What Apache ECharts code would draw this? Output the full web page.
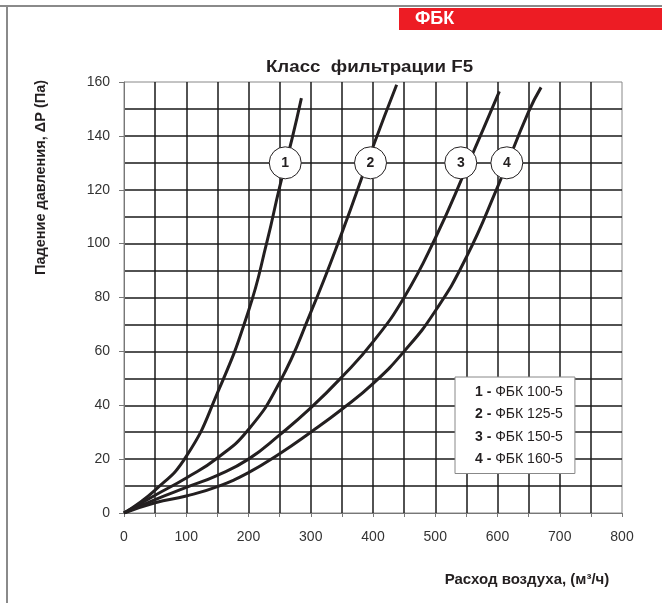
<!DOCTYPE html>
<html><head><meta charset="utf-8">
<script src="https://cdn.jsdelivr.net/npm/echarts@6/dist/echarts.min.js"></script>
<style>html,body{margin:0;padding:0;background:#fff}#c{width:662px;height:603px}</style>
</head><body><div id="c"></div>
<script>
const seriesNames = ['ФБК 100-5', 'ФБК 125-5', 'ФБК 150-5', 'ФБК 160-5'];
const curve1 = [[0,0],[50,8.5],[100,21],[150,44.5],[200,75],[230,101],[250,121],[270,139],[285,154]];
const curve2 = [[0,0],[50,6.6],[100,13],[150,20.4],[200,31],[250,48.5],[300,74.5],[350,104],[400,136],[438,159]];
const curve3 = [[0,0],[50,5],[100,9.5],[150,14],[200,20],[250,29],[300,39],[350,50.5],[400,63.5],[450,80],[500,102],[550,128],[603,156.5]];
const curve4 = [[0,0],[50,3.8],[100,6.3],[150,9.8],[200,15],[250,22],[300,30],[350,38.5],[400,48],[450,60],[500,75],[550,95],[600,121],[650,149],[670,158]];
const curveMarks = [[259,130,'1'],[396,130,'2'],[541,130,'3'],[615,130,'4']];
const titleText = 'Класс  фильтрации F5';
const xName = 'Расход воздуха, (м³/ч)';
const yName = 'Падение давления, ΔР (Па)';
const headerText = 'ФБК';

const FONT = 'Liberation Sans, Arial, sans-serif';
const curves = [curve1, curve2, curve3, curve4];
const chart = echarts.init(document.getElementById('c'), null, {renderer:'canvas'});

const series = curves.map((d, i) => ({
  name: seriesNames[i], type: 'line', data: d, smooth: 0.5, showSymbol: false,
  lineStyle: {color: '#231f20', width: 3}, itemStyle: {color: '#231f20'}, z: 3, silent: true
}));
series.push({
  type: 'scatter', data: curveMarks.map(m => [m[0], m[1], m[2]]), symbolSize: 32, z: 5,
  itemStyle: {color: '#ffffff', opacity: 1, borderColor: '#231f20', borderWidth: 1},
  label: {show: true, position: 'inside', formatter: p => p.data[2], color: '#231f20',
          fontFamily: FONT, fontWeight: 'bold', fontSize: 14},
  emphasis: {disabled: true}, silent: true
});

chart.setOption({
  animation: false,
  backgroundColor: '#fff',
  textStyle: {fontFamily: FONT},
  grid: {left: 124, right: 40, top: 82, bottom: 90, show: true, borderColor: '#888', borderWidth: 1},
  legend: {
    data: seriesNames, orient: 'vertical', left: 455, top: 377, icon: 'none',
    itemWidth: 0, itemHeight: 0, itemGap: 8.5,
    backgroundColor: '#fff', borderColor: '#888', borderWidth: 1,
    padding: [8, 12, 7, 15],
    formatter: name => '{n|' + (seriesNames.indexOf(name) + 1) + ' -} ' + name,
    textStyle: {fontFamily: FONT, fontSize: 14, color: '#231f20',
                rich: {n: {fontFamily: FONT, fontSize: 14, fontWeight: 'bold', color: '#231f20'}}},
    selectedMode: false, z: 10
  },
  xAxis: {
    type: 'value', min: 0, max: 800, interval: 100,
    axisLine: {show: true, lineStyle: {color: '#777', width: 1}},
    axisTick: {show: true, length: 4, lineStyle: {color: '#777'}},
    minorTick: {show: true, splitNumber: 2, length: 4, lineStyle: {color: '#777'}},
    axisLabel: {fontFamily: FONT, fontSize: 14, color: '#333', margin: 17},
    splitLine: {show: true, showMinLine: false, showMaxLine: false, lineStyle: {color: '#1a1a1a', width: 1.5}},
    minorSplitLine: {show: true, lineStyle: {color: '#1a1a1a', width: 1.5}}
  },
  yAxis: {
    type: 'value', min: 0, max: 160, interval: 20,
    axisLine: {show: true, lineStyle: {color: '#777', width: 1}},
    axisTick: {show: true, length: 5, lineStyle: {color: '#777'}},
    minorTick: {show: false, splitNumber: 2},
    axisLabel: {fontFamily: FONT, fontSize: 14, color: '#333', margin: 14},
    splitLine: {show: true, showMinLine: false, showMaxLine: false, lineStyle: {color: '#1a1a1a', width: 1.5}},
    minorSplitLine: {show: true, lineStyle: {color: '#1a1a1a', width: 1.5}}
  },
  graphic: [
    {type: 'rect', shape: {x: 0, y: 5, width: 662, height: 2}, style: {fill: '#8a8a8a'}},
    {type: 'rect', shape: {x: 6, y: 5, width: 2, height: 598}, style: {fill: '#8a8a8a'}},
    {type: 'rect', shape: {x: 399, y: 8, width: 263, height: 22}, style: {fill: '#ed1c24'}},
    {type: 'text', x: 415, y: 19.5, style: {text: headerText, fill: '#fff', fontFamily: FONT,
      fontWeight: 'bold', fontSize: 18, textVerticalAlign: 'middle'}},
    {type: 'text', x: 369.5, y: 68, scaleX: 1.17, style: {text: titleText, fill: '#231f20', fontFamily: FONT,
      fontWeight: 'bold', fontSize: 16, textAlign: 'center', textVerticalAlign: 'middle'}},
    {type: 'text', x: 41, y: 177.5, rotation: Math.PI / 2, style: {text: yName, fill: '#231f20',
      fontFamily: FONT, fontWeight: 'bold', fontSize: 14.5, textAlign: 'center', textVerticalAlign: 'middle'}},
    {type: 'text', x: 527, y: 580, style: {text: xName, fill: '#231f20',
      fontFamily: FONT, fontWeight: 'bold', fontSize: 15, textAlign: 'center', textVerticalAlign: 'middle'}}
  ],
  series: series
});
</script></body></html>
